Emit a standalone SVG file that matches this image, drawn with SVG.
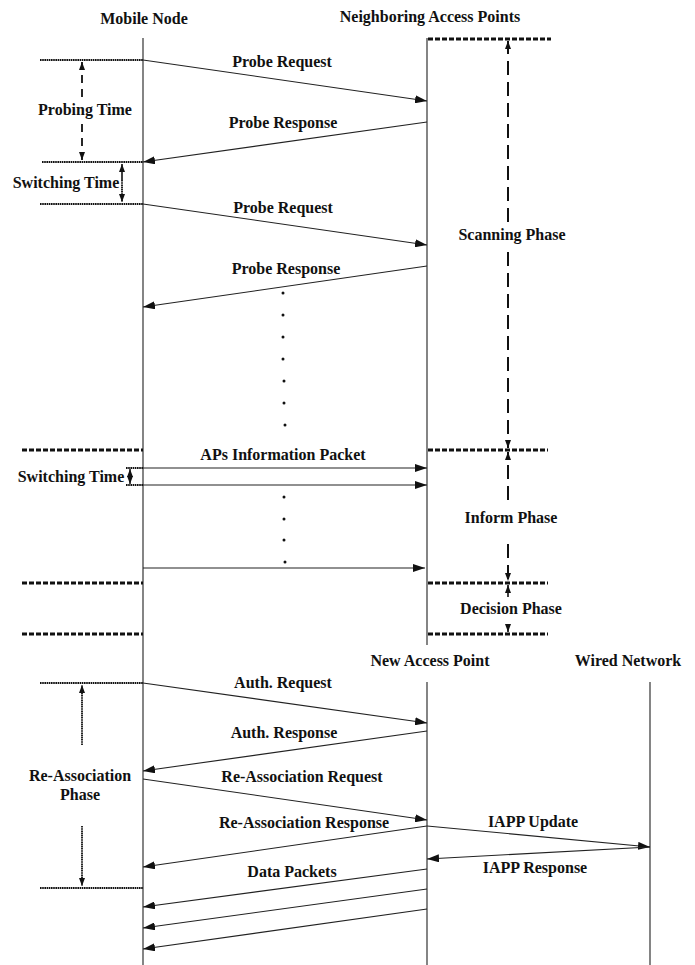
<svg xmlns="http://www.w3.org/2000/svg" width="695" height="965" viewBox="0 0 695 965">
<style>
text{font-family:"Liberation Serif","Times New Roman",serif;font-weight:bold;font-size:16px;fill:#111;text-anchor:middle}
.life{stroke:#333;stroke-width:1.2;fill:none}
.msg{stroke:#222;stroke-width:1.1;fill:none;marker-end:url(#ah)}
.fine{stroke:#111;stroke-width:1.8;stroke-dasharray:1.6,0.6;fill:none}
.thick{stroke:#111;stroke-width:3;stroke-dasharray:5,2;fill:none}
.dash{stroke:#111;stroke-width:2;stroke-dasharray:14,7;fill:none}
.dash2{stroke:#111;stroke-width:1.8;stroke-dasharray:8,6;fill:none}
.dot{fill:#111}
</style>
<defs>
<marker id="ah" markerWidth="12" markerHeight="8" refX="12" refY="4" orient="auto" markerUnits="userSpaceOnUse"><path d="M0,0 L12,4 L0,8 z" fill="#111"/></marker>
<marker id="ahs" markerWidth="8" markerHeight="6" refX="8" refY="3" orient="auto" markerUnits="userSpaceOnUse"><path d="M0,0 L8,3 L0,6 z" fill="#111"/></marker>
</defs>
<rect width="695" height="965" fill="#fff"/>

<g id="lifelines">
<line class="life" x1="143" y1="38" x2="143" y2="965"/>
<line class="life" x1="427" y1="38" x2="427" y2="645"/>
<line class="life" x1="427" y1="682" x2="427" y2="965"/>
<line class="life" x1="650" y1="682" x2="650" y2="965"/>
</g>

<g id="mobile-node"><text x="144" y="24">Mobile Node</text></g>
<g id="neighboring-aps"><text x="430" y="22">Neighboring Access Points</text></g>
<g id="new-ap"><text x="430" y="666">New Access Point</text></g>
<g id="wired-network"><text x="628" y="666">Wired Network</text></g>

<g id="phase-markers">
<line class="fine" x1="40" y1="60" x2="143" y2="60"/>
<line class="fine" x1="42" y1="162" x2="143" y2="162"/>
<line class="fine" x1="40" y1="204" x2="143" y2="204"/>
<line class="thick" x1="428" y1="39" x2="551" y2="39"/>
<line class="thick" x1="22" y1="450" x2="143" y2="450"/>
<line class="thick" x1="428" y1="450" x2="548" y2="450"/>
<line class="thick" x1="22" y1="583" x2="143" y2="583"/>
<line class="thick" x1="428" y1="583" x2="548" y2="583"/>
<line class="thick" x1="22" y1="634" x2="143" y2="634"/>
<line class="thick" x1="428" y1="634" x2="548" y2="634"/>
<line class="fine" x1="126" y1="468" x2="143" y2="468"/>
<line class="fine" x1="126" y1="485" x2="143" y2="485"/>
<line class="fine" x1="40" y1="683" x2="143" y2="683"/>
<line class="fine" x1="40" y1="888" x2="143" y2="888"/>
</g>

<g id="probing-time">
<line class="dash2" x1="82" y1="97" x2="82" y2="62" marker-end="url(#ahs)"/>
<line class="dash2" x1="82" y1="124" x2="82" y2="160" marker-end="url(#ahs)"/>
<text x="85" y="115">Probing Time</text>
</g>
<g id="switching-time-1">
<line stroke="#111" stroke-width="1.6" x1="122" y1="180" x2="122" y2="164" marker-end="url(#ahs)"/>
<line class="fine" x1="122" y1="180" x2="122" y2="202" marker-end="url(#ahs)"/>
<text x="66" y="188">Switching Time</text>
</g>
<g id="scanning-phase">
<line class="dash" x1="508" y1="222" x2="508" y2="41" marker-end="url(#ahs)"/>
<line class="dash" x1="508" y1="252" x2="508" y2="448" marker-end="url(#ahs)"/>
<text x="512" y="240">Scanning Phase</text>
</g>
<g id="switching-time-2">
<line stroke="#111" stroke-width="1.4" x1="130" y1="476" x2="130" y2="469" marker-end="url(#ahs)"/>
<line stroke="#111" stroke-width="1.4" x1="130" y1="477" x2="130" y2="484" marker-end="url(#ahs)"/>
<text x="71" y="482">Switching Time</text>
</g>
<g id="inform-phase">
<line class="dash" x1="508" y1="500" x2="508" y2="452" marker-end="url(#ahs)"/>
<line class="dash" x1="508" y1="544" x2="508" y2="581" marker-end="url(#ahs)"/>
<text x="511" y="523">Inform Phase</text>
</g>
<g id="decision-phase">
<line stroke="#111" stroke-width="1.6" x1="508" y1="597" x2="508" y2="585" marker-end="url(#ahs)"/>
<line stroke="#111" stroke-width="1.6" x1="508" y1="624" x2="508" y2="632" marker-end="url(#ahs)"/>
<text x="511" y="614">Decision Phase</text>
</g>
<g id="reassociation-phase">
<line class="fine" x1="82" y1="745" x2="82" y2="685" marker-end="url(#ahs)"/>
<line class="fine" x1="82" y1="826" x2="82" y2="886" marker-end="url(#ahs)"/>
<text x="80" y="781">Re-Association</text>
<text x="80" y="800">Phase</text>
</g>

<g id="connectors">
<line class="msg" x1="143" y1="60" x2="427" y2="101"/>
<line class="msg" x1="427" y1="122" x2="143" y2="162"/>
<line class="msg" x1="143" y1="204" x2="427" y2="245"/>
<line class="msg" x1="427" y1="266" x2="143" y2="307"/>
<line class="msg" x1="143" y1="468" x2="427" y2="468"/>
<line class="msg" x1="143" y1="485" x2="427" y2="485"/>
<line class="msg" x1="143" y1="568" x2="425" y2="568"/>
<line class="msg" x1="143" y1="683" x2="427" y2="723"/>
<line class="msg" x1="427" y1="731" x2="143" y2="771"/>
<line class="msg" x1="143" y1="779" x2="427" y2="820"/>
<line class="msg" x1="427" y1="826" x2="143" y2="867"/>
<line class="msg" x1="427" y1="826" x2="650" y2="847"/>
<line class="msg" x1="650" y1="847" x2="427" y2="859"/>
<line class="msg" x1="427" y1="869" x2="143" y2="907"/>
<line class="msg" x1="427" y1="889" x2="143" y2="928"/>
<line class="msg" x1="427" y1="909" x2="143" y2="949"/>
</g>

<g id="labels">
<text x="282" y="67">Probe Request</text>
<text x="283" y="128">Probe Response</text>
<text x="283" y="213">Probe Request</text>
<text x="286" y="274">Probe Response</text>
<text x="283" y="460">APs Information Packet</text>
<text x="283" y="688">Auth. Request</text>
<text x="284" y="738">Auth. Response</text>
<text x="302" y="782">Re-Association Request</text>
<text x="304" y="828">Re-Association Response</text>
<text x="533" y="827">IAPP Update</text>
<text x="535" y="873">IAPP Response</text>
<text x="292" y="877">Data Packets</text>
</g>

<g id="ellipsis">
<circle class="dot" cx="283" cy="293" r="1.5"/>
<circle class="dot" cx="283" cy="315" r="1.5"/>
<circle class="dot" cx="283" cy="337" r="1.5"/>
<circle class="dot" cx="283" cy="359" r="1.5"/>
<circle class="dot" cx="284" cy="381" r="1.5"/>
<circle class="dot" cx="284" cy="403" r="1.5"/>
<circle class="dot" cx="285" cy="425" r="1.5"/>
<circle class="dot" cx="284" cy="497" r="1.5"/>
<circle class="dot" cx="284" cy="519" r="1.5"/>
<circle class="dot" cx="284" cy="540" r="1.5"/>
<circle class="dot" cx="285" cy="562" r="1.5"/>
</g>
</svg>
